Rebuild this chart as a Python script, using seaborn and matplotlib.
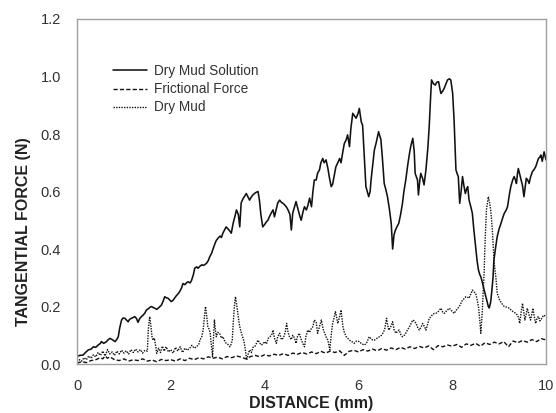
import numpy as np
import pandas as pd
import matplotlib
matplotlib.use("Agg")
import matplotlib.pyplot as plt
import seaborn as sns

# Tangential force traces along the sliding distance (mm, N)
solution_x = [
    0.00, 0.06, 0.13, 0.18, 0.24, 0.30, 0.35, 0.40, 0.45, 0.50, 0.52, 0.57, 0.63, 0.66, 0.70, 0.75,
    0.81, 0.85, 0.88, 0.91, 0.95, 0.98, 1.02, 1.06, 1.09, 1.12, 1.16, 1.20, 1.23, 1.27, 1.30, 1.34,
    1.38, 1.41, 1.45, 1.48, 1.52, 1.56, 1.59, 1.63, 1.66, 1.70, 1.73, 1.77, 1.80, 1.84, 1.87, 1.91,
    1.94, 1.98, 2.01, 2.05, 2.08, 2.12, 2.16, 2.19, 2.23, 2.26, 2.30, 2.34, 2.37, 2.41, 2.44, 2.48,
    2.51, 2.55, 2.58, 2.62, 2.66, 2.70, 2.76, 2.80, 2.83, 2.87, 2.90, 2.94, 2.97, 3.01, 3.05, 3.08,
    3.11, 3.15, 3.18, 3.22, 3.26, 3.29, 3.33, 3.37, 3.40, 3.44, 3.47, 3.50, 3.54, 3.58, 3.61, 3.65,
    3.68, 3.72, 3.75, 3.79, 3.83, 3.86, 3.89, 3.92, 3.96, 4.00, 4.04, 4.07, 4.11, 4.15, 4.18, 4.21,
    4.25, 4.28, 4.32, 4.36, 4.40, 4.43, 4.47, 4.50, 4.54, 4.57, 4.60, 4.64, 4.67, 4.71, 4.75, 4.78,
    4.82, 4.85, 4.89, 4.92, 4.96, 5.00, 5.03, 5.06, 5.10, 5.13, 5.17, 5.20, 5.24, 5.27, 5.31, 5.35,
    5.38, 5.42, 5.45, 5.49, 5.52, 5.56, 5.60, 5.63, 5.67, 5.70, 5.74, 5.77, 5.81, 5.84, 5.88, 5.92,
    5.95, 5.99, 6.02, 6.06, 6.09, 6.12, 6.16, 6.19, 6.22, 6.25, 6.27, 6.31, 6.34, 6.38, 6.43, 6.48,
    6.51, 6.55, 6.58, 6.62, 6.66, 6.70, 6.73, 6.76, 6.79, 6.83, 6.86, 6.90, 6.94, 6.97, 7.01, 7.05,
    7.09, 7.12, 7.16, 7.19, 7.21, 7.26, 7.28, 7.31, 7.33, 7.37, 7.40, 7.44, 7.48, 7.51, 7.54, 7.56,
    7.60, 7.64, 7.67, 7.71, 7.74, 7.76, 7.80, 7.83, 7.87, 7.90, 7.94, 7.97, 8.01, 8.04, 8.06, 8.08,
    8.11, 8.13, 8.16, 8.19, 8.22, 8.25, 8.28, 8.31, 8.33, 8.36, 8.40, 8.43, 8.46, 8.50, 8.53, 8.56,
    8.59, 8.61, 8.64, 8.67, 8.70, 8.74, 8.77, 8.79, 8.82, 8.84, 8.87, 8.89, 8.93, 8.96, 9.00, 9.04,
    9.07, 9.11, 9.15, 9.18, 9.22, 9.25, 9.29, 9.32, 9.35, 9.37, 9.39, 9.41, 9.44, 9.47, 9.50, 9.53,
    9.56, 9.58, 9.61, 9.64, 9.67, 9.71, 9.74, 9.78, 9.81, 9.84, 9.87, 9.89, 9.92, 9.96, 10.00,
]
solution_y = [
    0.027, 0.030, 0.031, 0.040, 0.049, 0.052, 0.060, 0.058, 0.066, 0.072, 0.078, 0.072, 0.078, 0.084, 0.089, 0.085,
    0.078, 0.086, 0.095, 0.125, 0.153, 0.160, 0.159, 0.152, 0.147, 0.155, 0.159, 0.162, 0.165, 0.158, 0.145, 0.159,
    0.166, 0.170, 0.178, 0.188, 0.192, 0.198, 0.200, 0.196, 0.194, 0.190, 0.194, 0.200, 0.205, 0.220, 0.234, 0.230,
    0.229, 0.222, 0.217, 0.222, 0.229, 0.238, 0.245, 0.252, 0.265, 0.280, 0.276, 0.283, 0.286, 0.282, 0.290, 0.310,
    0.333, 0.338, 0.333, 0.340, 0.345, 0.343, 0.350, 0.360, 0.373, 0.385, 0.400, 0.418, 0.430, 0.438, 0.445, 0.440,
    0.455, 0.468, 0.477, 0.470, 0.462, 0.455, 0.490, 0.515, 0.536, 0.520, 0.477, 0.560, 0.575, 0.585, 0.593, 0.580,
    0.570, 0.582, 0.588, 0.594, 0.598, 0.600, 0.570, 0.520, 0.477, 0.485, 0.495, 0.500, 0.515, 0.528, 0.536, 0.512,
    0.540, 0.560, 0.570, 0.562, 0.558, 0.553, 0.545, 0.536, 0.520, 0.466, 0.525, 0.548, 0.565, 0.540, 0.515, 0.500,
    0.530, 0.547, 0.536, 0.550, 0.577, 0.547, 0.600, 0.640, 0.640, 0.664, 0.675, 0.700, 0.715, 0.700, 0.710, 0.680,
    0.650, 0.617, 0.625, 0.660, 0.686, 0.700, 0.715, 0.700, 0.740, 0.767, 0.780, 0.797, 0.756, 0.820, 0.872, 0.862,
    0.855, 0.870, 0.889, 0.843, 0.830, 0.740, 0.617, 0.600, 0.582, 0.600, 0.640, 0.700, 0.744, 0.770, 0.808, 0.780,
    0.720, 0.628, 0.610, 0.582, 0.540, 0.489, 0.400, 0.450, 0.466, 0.480, 0.489, 0.520, 0.559, 0.600, 0.640, 0.690,
    0.733, 0.760, 0.785, 0.740, 0.663, 0.640, 0.588, 0.640, 0.663, 0.645, 0.623, 0.675, 0.750, 0.826, 0.930, 0.988,
    0.975, 0.970, 0.980, 0.982, 0.955, 0.941, 0.950, 0.959, 0.975, 0.988, 0.992, 0.988, 0.941, 0.849, 0.760, 0.675,
    0.660, 0.652, 0.559, 0.600, 0.652, 0.620, 0.593, 0.610, 0.617, 0.570, 0.545, 0.524, 0.470, 0.408, 0.360, 0.327,
    0.310, 0.304, 0.286, 0.265, 0.246, 0.220, 0.200, 0.195, 0.215, 0.246, 0.300, 0.362, 0.410, 0.443, 0.470, 0.489,
    0.505, 0.524, 0.535, 0.547, 0.590, 0.617, 0.640, 0.652, 0.640, 0.628, 0.660, 0.680, 0.660, 0.640, 0.620, 0.582,
    0.620, 0.646, 0.640, 0.628, 0.650, 0.669, 0.675, 0.686, 0.700, 0.715, 0.720, 0.727, 0.705, 0.738, 0.710,
]

friction_x = [
    0.00, 0.10, 0.20, 0.30, 0.40, 0.50, 0.55, 0.60, 0.65, 0.70, 0.80, 0.90, 1.00, 1.10, 1.20, 1.30,
    1.40, 1.50, 1.60, 1.70, 1.80, 1.90, 2.00, 2.10, 2.20, 2.30, 2.40, 2.50, 2.60, 2.70, 2.80, 2.90,
    3.00, 3.10, 3.20, 3.30, 3.40, 3.50, 3.60, 3.70, 3.80, 3.90, 4.00, 4.10, 4.20, 4.30, 4.40, 4.50,
    4.60, 4.70, 4.80, 4.90, 5.00, 5.10, 5.20, 5.30, 5.40, 5.50, 5.60, 5.70, 5.80, 5.90, 6.00, 6.10,
    6.20, 6.30, 6.40, 6.50, 6.60, 6.70, 6.80, 6.90, 7.00, 7.10, 7.20, 7.30, 7.40, 7.50, 7.60, 7.70,
    7.80, 7.90, 8.00, 8.10, 8.20, 8.30, 8.40, 8.50, 8.60, 8.70, 8.80, 8.90, 9.00, 9.10, 9.20, 9.30,
    9.40, 9.50, 9.60, 9.70, 9.80, 9.90, 10.00,
]
friction_y = [
    0.003, 0.008, 0.005, 0.012, 0.015, 0.022, 0.018, 0.028, 0.020, 0.025, 0.015, 0.012, 0.018, 0.010, 0.015, 0.012,
    0.018, 0.010, 0.014, 0.008, 0.016, 0.012, 0.015, 0.010, 0.018, 0.012, 0.020, 0.015, 0.022, 0.018, 0.025, 0.020,
    0.024, 0.018, 0.026, 0.022, 0.028, 0.024, 0.018, 0.026, 0.030, 0.025, 0.032, 0.028, 0.034, 0.030, 0.036, 0.030,
    0.038, 0.034, 0.040, 0.035, 0.042, 0.036, 0.044, 0.038, 0.045, 0.040, 0.046, 0.030, 0.044, 0.048, 0.042, 0.050,
    0.045, 0.052, 0.046, 0.054, 0.048, 0.056, 0.050, 0.058, 0.052, 0.060, 0.054, 0.061, 0.056, 0.063, 0.050, 0.064,
    0.060, 0.066, 0.062, 0.068, 0.058, 0.070, 0.065, 0.072, 0.062, 0.074, 0.068, 0.076, 0.070, 0.078, 0.060, 0.080,
    0.074, 0.082, 0.076, 0.085, 0.078, 0.088, 0.084,
]

mud_x = [
    0.00, 0.05, 0.10, 0.15, 0.20, 0.25, 0.30, 0.35, 0.40, 0.45, 0.50, 0.55, 0.60, 0.65, 0.70, 0.75,
    0.80, 0.85, 0.90, 0.95, 1.00, 1.05, 1.10, 1.15, 1.20, 1.25, 1.30, 1.35, 1.40, 1.45, 1.50, 1.52,
    1.55, 1.57, 1.60, 1.62, 1.65, 1.68, 1.70, 1.74, 1.78, 1.82, 1.86, 1.90, 1.95, 2.00, 2.05, 2.10,
    2.15, 2.20, 2.25, 2.30, 2.35, 2.40, 2.45, 2.50, 2.55, 2.60, 2.62, 2.66, 2.69, 2.72, 2.74, 2.77,
    2.79, 2.82, 2.84, 2.87, 2.89, 2.91, 2.93, 2.95, 2.97, 3.00, 3.04, 3.08, 3.11, 3.15, 3.18, 3.22,
    3.26, 3.29, 3.31, 3.33, 3.35, 3.37, 3.38, 3.41, 3.43, 3.45, 3.47, 3.50, 3.53, 3.56, 3.58, 3.60,
    3.62, 3.65, 3.68, 3.72, 3.75, 3.79, 3.82, 3.86, 3.90, 3.93, 3.97, 4.00, 4.04, 4.08, 4.11, 4.15,
    4.18, 4.21, 4.25, 4.28, 4.32, 4.36, 4.40, 4.44, 4.47, 4.50, 4.53, 4.57, 4.60, 4.64, 4.67, 4.70,
    4.74, 4.78, 4.82, 4.85, 4.88, 4.92, 4.96, 5.00, 5.03, 5.06, 5.10, 5.13, 5.17, 5.21, 5.25, 5.28,
    5.31, 5.35, 5.39, 5.42, 5.45, 5.48, 5.51, 5.54, 5.56, 5.60, 5.63, 5.67, 5.70, 5.74, 5.78, 5.81,
    5.86, 5.91, 5.96, 6.02, 6.07, 6.13, 6.18, 6.23, 6.28, 6.34, 6.40, 6.45, 6.49, 6.52, 6.56, 6.60,
    6.63, 6.65, 6.69, 6.73, 6.76, 6.80, 6.84, 6.87, 6.91, 6.94, 6.98, 7.01, 7.05, 7.09, 7.12, 7.16,
    7.19, 7.23, 7.27, 7.30, 7.34, 7.37, 7.41, 7.44, 7.48, 7.51, 7.55, 7.58, 7.62, 7.65, 7.70, 7.76,
    7.80, 7.83, 7.88, 7.94, 7.99, 8.04, 8.10, 8.15, 8.19, 8.22, 8.26, 8.29, 8.33, 8.36, 8.40, 8.43,
    8.47, 8.50, 8.53, 8.56, 8.59, 8.61, 8.63, 8.64, 8.66, 8.68, 8.70, 8.73, 8.75, 8.77, 8.80, 8.82,
    8.84, 8.86, 8.89, 8.91, 8.93, 8.96, 9.01, 9.06, 9.11, 9.16, 9.22, 9.27, 9.32, 9.36, 9.39, 9.42,
    9.44, 9.47, 9.50, 9.53, 9.55, 9.58, 9.60, 9.64, 9.67, 9.70, 9.72, 9.75, 9.78, 9.81, 9.84, 9.87,
    9.91, 9.95, 10.00,
]
mud_y = [
    0.008, 0.015, 0.010, 0.022, 0.015, 0.028, 0.020, 0.032, 0.025, 0.040, 0.030, 0.045, 0.028, 0.050, 0.035, 0.042,
    0.030, 0.045, 0.035, 0.048, 0.038, 0.046, 0.035, 0.050, 0.040, 0.052, 0.042, 0.050, 0.038, 0.048, 0.045, 0.120,
    0.165, 0.140, 0.095, 0.083, 0.090, 0.060, 0.037, 0.055, 0.040, 0.062, 0.045, 0.060, 0.042, 0.050, 0.038, 0.058,
    0.045, 0.060, 0.040, 0.055, 0.048, 0.054, 0.065, 0.055, 0.060, 0.070, 0.083, 0.095, 0.118, 0.170, 0.200, 0.160,
    0.130, 0.120, 0.107, 0.060, 0.025, 0.090, 0.153, 0.120, 0.095, 0.110, 0.107, 0.090, 0.095, 0.080, 0.072, 0.068,
    0.060, 0.070, 0.083, 0.140, 0.188, 0.225, 0.234, 0.200, 0.176, 0.150, 0.130, 0.110, 0.095, 0.080, 0.060, 0.035,
    0.014, 0.035, 0.049, 0.040, 0.058, 0.060, 0.070, 0.083, 0.072, 0.066, 0.070, 0.078, 0.070, 0.090, 0.095, 0.100,
    0.118, 0.090, 0.072, 0.095, 0.107, 0.085, 0.090, 0.110, 0.141, 0.110, 0.095, 0.085, 0.100, 0.090, 0.072, 0.095,
    0.107, 0.085, 0.070, 0.060, 0.095, 0.118, 0.110, 0.125, 0.130, 0.153, 0.145, 0.107, 0.130, 0.153, 0.120, 0.107,
    0.095, 0.083, 0.049, 0.100, 0.141, 0.160, 0.182, 0.160, 0.141, 0.165, 0.188, 0.130, 0.110, 0.095, 0.088, 0.083,
    0.078, 0.072, 0.080, 0.078, 0.070, 0.066, 0.075, 0.095, 0.085, 0.083, 0.090, 0.095, 0.100, 0.107, 0.120, 0.159,
    0.130, 0.118, 0.130, 0.147, 0.120, 0.107, 0.115, 0.118, 0.100, 0.095, 0.100, 0.107, 0.120, 0.130, 0.140, 0.153,
    0.150, 0.141, 0.125, 0.118, 0.130, 0.141, 0.130, 0.118, 0.140, 0.159, 0.165, 0.172, 0.176, 0.176, 0.182, 0.194,
    0.180, 0.176, 0.185, 0.194, 0.185, 0.176, 0.190, 0.200, 0.212, 0.223, 0.228, 0.234, 0.232, 0.229, 0.245, 0.257,
    0.250, 0.246, 0.225, 0.200, 0.150, 0.107, 0.150, 0.176, 0.250, 0.315, 0.420, 0.536, 0.560, 0.582, 0.560, 0.536,
    0.500, 0.455, 0.362, 0.330, 0.304, 0.246, 0.223, 0.210, 0.200, 0.198, 0.194, 0.185, 0.180, 0.176, 0.170, 0.160,
    0.141, 0.180, 0.211, 0.175, 0.153, 0.175, 0.194, 0.170, 0.153, 0.175, 0.194, 0.165, 0.141, 0.160, 0.165, 0.150,
    0.159, 0.170, 0.165,
]

series_labels = ["Dry Mud Solution", "Frictional Force", "Dry Mud"]
x_ticks = [0, 2, 4, 6, 8, 10]
y_ticks = [0.0, 0.2, 0.4, 0.6, 0.8, 1.0, 1.2]

sns.set_style("white")
plt.rcParams["font.family"] = ["Liberation Sans", "DejaVu Sans"]

fig = plt.figure(figsize=(5.56, 4.13), dpi=100)
ax = fig.add_axes([0.1385, 0.1186, 0.8435, 0.8354])

line_kw = dict(ax=ax, sort=False, estimator=None, color="#111111")
sns.lineplot(x=solution_x, y=solution_y, lw=1.15, label=series_labels[0], **line_kw)
sns.lineplot(x=friction_x, y=friction_y, lw=1.0, label=series_labels[1],
             dashes=False, **line_kw)
sns.lineplot(x=mud_x, y=mud_y, lw=1.0, label=series_labels[2], dashes=False, **line_kw)

lines = ax.get_lines()
lines[1].set_linestyle((0, (3.0, 1.6)))
lines[2].set_linestyle((0, (1.0, 0.9)))

ax.set_xlim(0, 10)
ax.set_ylim(0, 1.2)
ax.set_xticks(x_ticks)
ax.set_xticklabels([str(t) for t in x_ticks])
ax.set_yticks(y_ticks)
ax.set_yticklabels([f"{t:.1f}" for t in y_ticks])

for side in ["left", "right", "top", "bottom"]:
    ax.spines[side].set_visible(True)
    ax.spines[side].set_color("#a0a0a0")
    ax.spines[side].set_linewidth(1.0)

ax.tick_params(axis="both", direction="out", length=5, width=0.8, color="#a0a0a0",
               labelsize=10.5, labelcolor="#333333")
ax.tick_params(axis="y", pad=6.5)
ax.tick_params(axis="x", pad=5.5)

ax.set_xlabel("DISTANCE (mm)", fontsize=11.5, fontweight="bold", color="#222222")
ax.set_ylabel("TANGENTIAL FORCE (N)", fontsize=11.5, fontweight="bold", color="#222222")
ax.xaxis.set_label_coords(0.5, -0.093)
ax.yaxis.set_label_coords(-0.099, 0.385)

leg = ax.legend(loc="upper left", bbox_to_anchor=(0.077, 0.869), frameon=False,
                fontsize=9.8, handlelength=2.5, handletextpad=0.5, labelspacing=0.3,
                borderpad=0, borderaxespad=0)
for t in leg.get_texts():
    t.set_color("#333333")

fig.savefig("out.png", dpi=100, facecolor="white")
